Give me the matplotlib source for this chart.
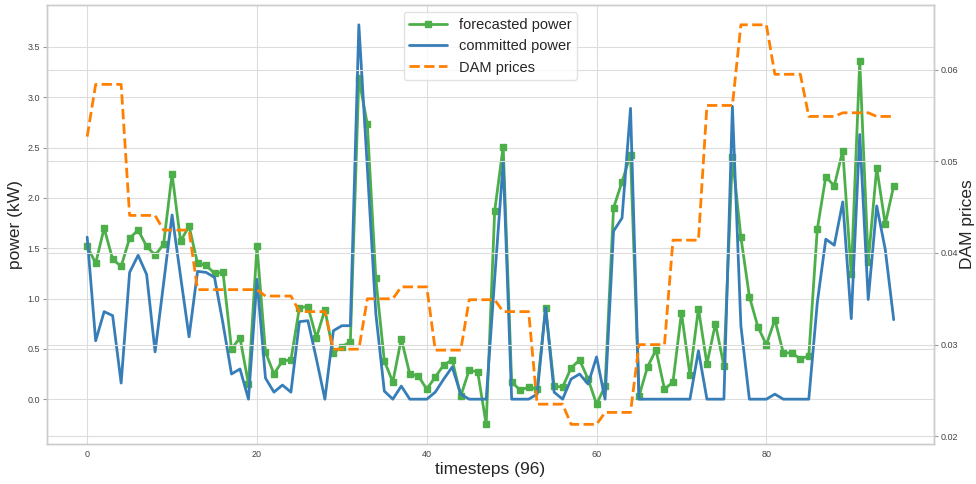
import matplotlib
matplotlib.use('Agg')
import matplotlib.pyplot as plt
import numpy as np

# forecasted vs committed power with day-ahead market prices
forecasted = [1.52, 1.35, 1.70, 1.39, 1.32, 1.60, 1.68, 1.52, 1.43, 1.54,
              2.24, 1.57, 1.72, 1.35, 1.33, 1.25, 1.26, 0.50, 0.61, 0.15,
              1.52, 0.47, 0.25, 0.38, 0.39, 0.91, 0.92, 0.61, 0.89, 0.46,
              0.52, 0.57, 3.19, 2.73, 1.20, 0.38, 0.17, 0.60, 0.25, 0.23,
              0.10, 0.22, 0.34, 0.39, 0.03, 0.29, 0.27, -0.25, 1.87, 2.51,
              0.17, 0.09, 0.12, 0.10, 0.91, 0.13, 0.12, 0.31, 0.39, 0.20,
              -0.05, 0.13, 1.90, 2.16, 2.43, 0.03, 0.32, 0.49, 0.10, 0.17,
              0.86, 0.24, 0.90, 0.35, 0.75, 0.33, 2.41, 1.61, 1.02, 0.72,
              0.54, 0.79, 0.46, 0.46, 0.40, 0.43, 1.69, 2.21, 2.12, 2.47,
              1.24, 3.36, 1.36, 2.30, 1.74, 2.12]

committed = [1.61, 0.58, 0.87, 0.83, 0.16, 1.26, 1.43, 1.24, 0.47, 1.15,
             1.83, 1.22, 0.62, 1.27, 1.26, 1.21, 0.75, 0.25, 0.30, 0.00,
             1.19, 0.21, 0.07, 0.14, 0.07, 0.77, 0.78, 0.40, 0.00, 0.68,
             0.73, 0.73, 3.72, 2.30, 0.85, 0.08, 0.00, 0.13, 0.00, 0.00,
             0.00, 0.07, 0.20, 0.32, 0.05, 0.00, 0.00, 0.00, 1.20, 2.36,
             0.00, 0.00, 0.00, 0.05, 0.91, 0.07, 0.00, 0.20, 0.25, 0.15,
             0.42, 0.00, 1.67, 1.80, 2.89, 0.00, 0.00, 0.00, 0.00, 0.00,
             0.00, 0.00, 0.48, 0.00, 0.00, 0.00, 2.91, 0.73, 0.00, 0.00,
             0.00, 0.05, 0.00, 0.00, 0.00, 0.00, 0.96, 1.59, 1.53, 1.96,
             0.80, 2.63, 0.99, 1.92, 1.49, 0.79]

dam_prices = [0.0527,
              0.0584, 0.0584, 0.0584, 0.0584,
              0.0441, 0.0441, 0.0441, 0.0441,
              0.0425, 0.0425, 0.0425, 0.0425,
              0.0360, 0.0360, 0.0360, 0.0360,
              0.0360, 0.0360, 0.0360, 0.0360,
              0.0353, 0.0353, 0.0353, 0.0353,
              0.0336, 0.0336, 0.0336, 0.0336,
              0.0295, 0.0295, 0.0295, 0.0295,
              0.0350, 0.0350, 0.0350, 0.0350,
              0.0363, 0.0363, 0.0363, 0.0363,
              0.0294, 0.0294, 0.0294, 0.0294,
              0.0349, 0.0349, 0.0349, 0.0349,
              0.0336, 0.0336, 0.0336, 0.0336,
              0.0235, 0.0235, 0.0235, 0.0235,
              0.0213, 0.0213, 0.0213, 0.0213,
              0.0226, 0.0226, 0.0226, 0.0226,
              0.0300, 0.0300, 0.0300, 0.0300,
              0.0414, 0.0414, 0.0414, 0.0414,
              0.0561, 0.0561, 0.0561, 0.0561,
              0.0649, 0.0649, 0.0649, 0.0649,
              0.0595, 0.0595, 0.0595, 0.0595,
              0.0549, 0.0549, 0.0549, 0.0549,
              0.0553, 0.0553, 0.0553, 0.0553,
              0.0549, 0.0549, 0.0549]

timesteps = np.arange(len(forecasted))

plt.style.use('seaborn-v0_8-whitegrid')
plt.rcParams['font.family'] = ['Liberation Sans', 'DejaVu Sans']
plt.rcParams['axes.edgecolor'] = '#cccccc'
plt.rcParams['grid.color'] = '#dddddd'

fig, ax1 = plt.subplots(figsize=(9.76, 4.84), dpi=100)

l1, = ax1.plot(timesteps, forecasted, color='#4daf4a', marker='s', markersize=4.5,
               linewidth=2, label='forecasted power')
l2, = ax1.plot(timesteps, committed, color='#377eb8', linewidth=2, label='committed power')
ax1.set_xlabel('timesteps (96)', fontsize=12.5, labelpad=2)
ax1.set_ylabel('power (kW)', fontsize=12.5, labelpad=3)
ax1.tick_params(axis='both', labelsize=6.5, colors='#444444')
ax1.tick_params(axis='y', left=True, length=3, width=0.8, color='#999999', pad=2)
ax1.tick_params(axis='x', pad=4)

ax2 = ax1.twinx()
l3, = ax2.plot(timesteps, dam_prices, color='#ff7f00', linestyle='--', linewidth=2,
               label='DAM prices')
ax2.set_ylabel('DAM prices', fontsize=12.5)
ax2.yaxis.set_label_coords(1.029, 0.5)
ax2.tick_params(axis='y', labelsize=6.5, colors='#444444', right=True, length=3,
                width=0.8, pad=2)
ax2.tick_params(axis='y', color='#999999')

for ax in (ax1, ax2):
    for sp in ax.spines.values():
        sp.set_color('#cccccc')
        sp.set_linewidth(1)

ax2.legend(handles=[l1, l2, l3], loc='upper center', fontsize=10.5, frameon=True,
           framealpha=0.8, edgecolor='#dddddd', handlelength=2.6)

fig.subplots_adjust(left=0.048, right=0.957, bottom=0.082, top=0.99)
fig.savefig('out.png', dpi=100)
